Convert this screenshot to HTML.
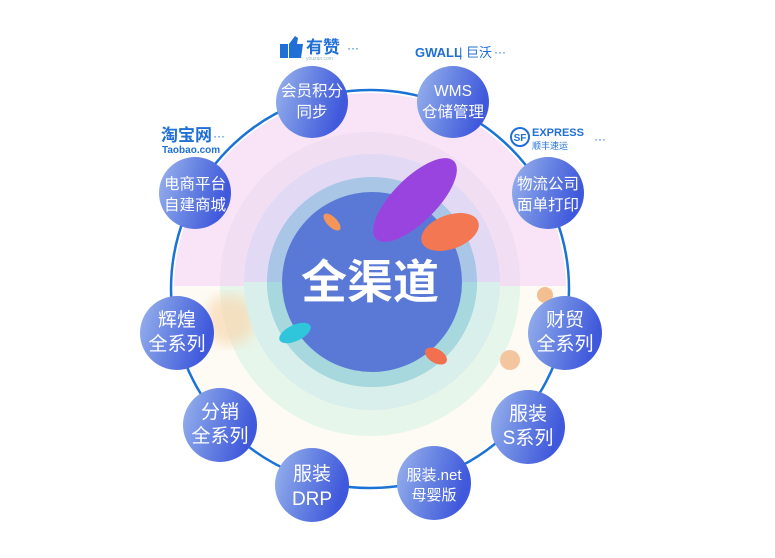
<!DOCTYPE html>
<html><head><meta charset="utf-8"><style>
body{margin:0;width:775px;height:553px;background:#fff;overflow:hidden;font-family:"Liberation Sans","Noto Sans CJK SC",sans-serif}
</style></head><body>
<svg width="775" height="553" viewBox="0 0 775 553" xmlns="http://www.w3.org/2000/svg" font-family="Liberation Sans, Noto Sans CJK SC, sans-serif">
<defs>
<linearGradient id="nd" x1="0" y1="0" x2="1" y2="0.3"><stop offset="0" stop-color="#9bb4ee"/><stop offset="0.5" stop-color="#6a86e2"/><stop offset="1" stop-color="#3f58dc"/></linearGradient>
<filter id="bl"><feGaussianBlur stdDeviation="6"/></filter>
</defs>
<clipPath id="cc"><circle cx="370" cy="289" r="196"/></clipPath>
<g clip-path="url(#cc)">
<rect x="170" y="90" width="400" height="196" fill="#f8e4f6"/>
<rect x="170" y="286" width="400" height="210" fill="#fdfbf3"/>
<circle cx="370" cy="282" r="150" fill="#f0dcf2" opacity="0.8"/>
<path d="M220 286 A150 150 0 0 0 520 286 Z" fill="#e7f6ea"/>
<circle cx="230" cy="320" r="25" fill="#f8d7b0" filter="url(#bl)" opacity="0.7"/>
<circle cx="510" cy="360" r="10" fill="#f4c6a0"/>
<circle cx="545" cy="295" r="8" fill="#f4bf90"/>
</g>
<circle cx="370" cy="289" r="199" fill="none" stroke="#1b73d6" stroke-width="2.5"/>
<circle cx="372" cy="282" r="128" fill="#dcd9f4" opacity="0.7"/>
<path d="M244 282 A128 128 0 0 0 500 282 Z" fill="#d8f1ea" opacity="0.9"/>
<circle cx="372" cy="282" r="105" fill="#a9c6e6"/>
<path d="M267 282 A105 105 0 0 0 477 282 Z" fill="#a6d8de"/>
<circle cx="372" cy="282" r="90" fill="#5a79d6"/>
<ellipse cx="415" cy="200" rx="22" ry="55" transform="rotate(45 415 200)" fill="#9a44e0"/>
<ellipse cx="450" cy="232" rx="30" ry="17" transform="rotate(-20 450 232)" fill="#f27752"/>
<ellipse cx="295" cy="333" rx="17" ry="8" transform="rotate(-25 295 333)" fill="#2fc6dc"/>
<ellipse cx="436" cy="356" rx="12" ry="7" transform="rotate(30 436 356)" fill="#f2704e"/>
<ellipse cx="332" cy="222" rx="5" ry="11" transform="rotate(-45 332 222)" fill="#f5955a"/>
<text x="370" y="298" text-anchor="middle" font-size="46" font-weight="bold" fill="#fff">全渠道</text>
<g font-size="15.5" fill="#fff" text-anchor="middle">
<circle cx="312" cy="102" r="36" fill="url(#nd)"/><text x="312" y="96">会员积分</text><text x="312" y="117">同步</text>
<circle cx="453" cy="102" r="36" fill="url(#nd)"/><text x="453" y="96">WMS</text><text x="453" y="117">仓储管理</text>
<circle cx="548" cy="193" r="36" fill="url(#nd)"/><text x="548" y="189">物流公司</text><text x="548" y="210">面单打印</text>
<circle cx="195" cy="193" r="36" fill="url(#nd)"/><text x="195" y="189">电商平台</text><text x="195" y="210">自建商城</text>
<g font-size="19">
<circle cx="177" cy="333" r="37" fill="url(#nd)"/><text x="177" y="326">辉煌</text><text x="177" y="350">全系列</text>
<circle cx="220" cy="425" r="37" fill="url(#nd)"/><text x="220" y="418">分销</text><text x="220" y="442">全系列</text>
<circle cx="312" cy="485" r="37" fill="url(#nd)"/><text x="312" y="480">服装</text><text x="312" y="505">DRP</text>
<circle cx="528" cy="427" r="37" fill="url(#nd)"/><text x="528" y="420">服装</text><text x="528" y="444">S系列</text>
<circle cx="565" cy="333" r="37" fill="url(#nd)"/><text x="565" y="326">财贸</text><text x="565" y="350">全系列</text>
</g>
<circle cx="434" cy="483" r="37" fill="url(#nd)"/><text x="434" y="480" font-size="15">服装.net</text><text x="434" y="500" font-size="15">母婴版</text>
</g>
<rect x="280" y="44" width="8" height="14" fill="#1f6fd6"/><path d="M289 44 L295 36 L298 38 L297 44 L303 44 L301 58 L289 58 Z" fill="#1f6fd6"/>
<text x="306" y="53" font-size="17" font-weight="bold" fill="#1f6fd6">有赞</text><text x="347" y="52" font-size="12" fill="#1f6fd6">···</text>
<text x="306" y="60" font-size="5" fill="#9bb">youzan.com</text>
<text x="415" y="57" font-size="13" font-weight="bold" fill="#1f6fd6">GWALL</text><text x="459" y="57" font-size="13" fill="#1f6fd6">| 巨沃</text><text x="494" y="56" font-size="12" fill="#1f6fd6">···</text>
<circle cx="520" cy="137" r="9" fill="none" stroke="#1f6fd6" stroke-width="2"/><text x="520" y="141" font-size="10" font-weight="bold" text-anchor="middle" fill="#1f6fd6">SF</text>
<text x="532" y="136" font-size="11" font-weight="bold" fill="#1f6fd6">EXPRESS</text><text x="532" y="149" font-size="9" fill="#1f6fd6">顺丰速运</text><text x="594" y="143" font-size="12" fill="#1f6fd6">···</text>
<text x="161" y="141" font-size="17" font-weight="bold" fill="#1f6fd6">淘宝网</text><text x="213" y="140" font-size="12" fill="#1f6fd6">···</text>
<text x="162" y="153" font-size="10" font-weight="bold" fill="#1f6fd6">Taobao.com</text>
</svg>
</body></html>
